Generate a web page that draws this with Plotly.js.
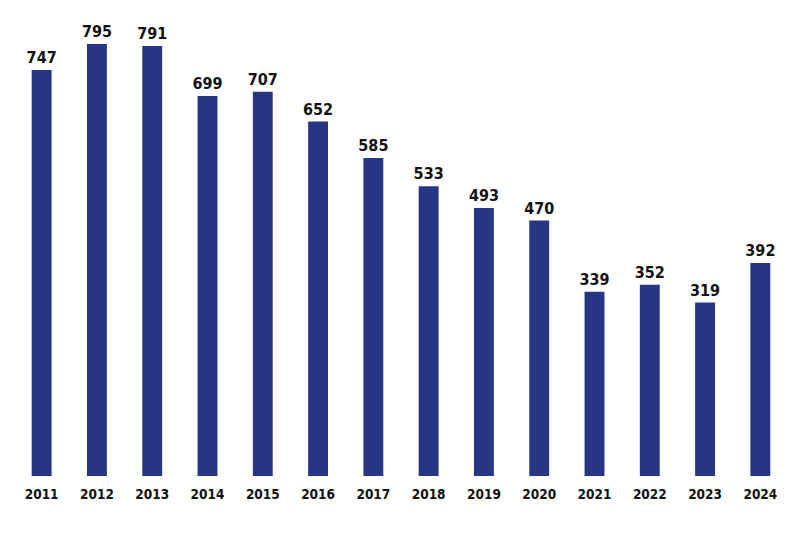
<!DOCTYPE html>
<html><head><meta charset="utf-8">
<script src="https://cdn.plot.ly/plotly-3.0.1.min.js"></script>
<style>body{margin:0;background:#fff}#c{width:799px;height:533px}</style>
</head><body><div id="c"></div>
<script>
var years = ["2011","2012","2013","2014","2015","2016","2017","2018","2019","2020","2021","2022","2023","2024"];
var values = [747,795,791,699,707,652,585,533,493,470,339,352,319,392];
var fontFam = "'DejaVu Sans Condensed', 'Liberation Sans Narrow', Arial, sans-serif";
Plotly.newPlot('c', [{
  type: 'bar', x: years, y: values,
  marker: {color: '#283583'},
  text: values.map(String), textposition: 'outside', cliponaxis: false, constraintext: 'none',
  textfont: {family: fontFam, size: 16, color: '#111', weight: 'bold'},
  hoverinfo: 'none'
}], {
  width: 799, height: 533,
  margin: {l: 14, r: 11, t: 14, b: 57},
  paper_bgcolor: '#fff', plot_bgcolor: '#fff',
  bargap: 0.64,
  showlegend: false,
  xaxis: {type: 'category', showgrid: false, zeroline: false, showline: false,
          ticks: 'outside', ticklen: 6, tickcolor: 'rgba(0,0,0,0)',
          tickfont: {family: fontFam, size: 13.5, color: '#111', weight: 'bold'}, tickangle: 0},
  yaxis: {range: [0, 850], visible: false, showgrid: false, zeroline: false}
}, {displayModeBar: false, staticPlot: true});
</script></body></html>
